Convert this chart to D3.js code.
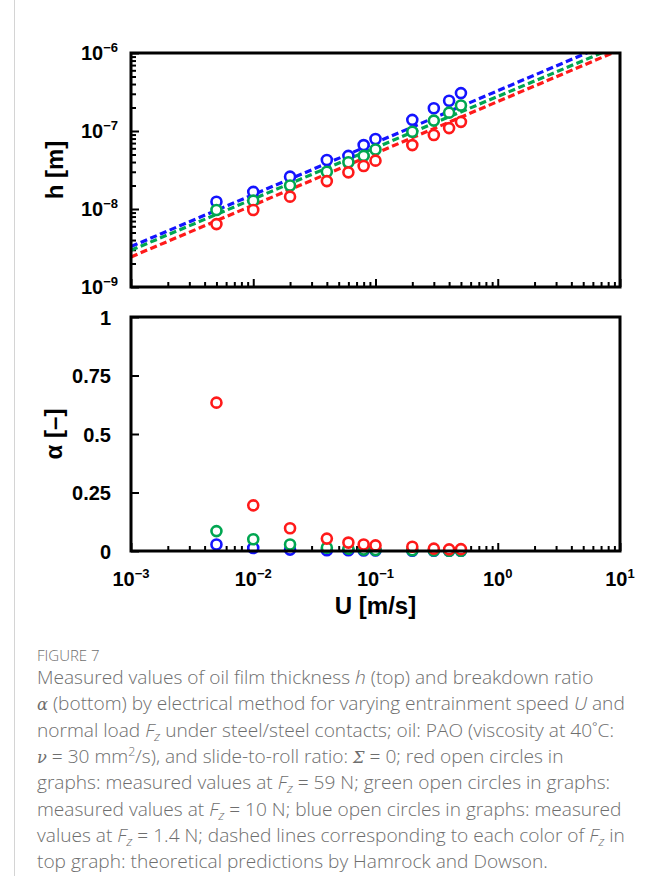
<!DOCTYPE html>
<html>
<head>
<meta charset="utf-8">
<script src="https://cdn.jsdelivr.net/npm/d3@7"></script>
<style>
  body { margin: 0; background: #fff; }
  .tick-label { font-family: "Liberation Sans", Arial, sans-serif; font-weight: bold; fill: #000; }
  .caption { font-family: "Open Sans", "Noto Sans", sans-serif; font-weight: 300; fill: #6e6e6e; }
</style>
</head>
<body>
<div id="chart"></div>
<script>
// Entrainment speeds U [m/s]
const speeds = [0.005, 0.01, 0.02, 0.04, 0.06, 0.08, 0.1, 0.2, 0.3, 0.4, 0.5];

// film thickness h [m]
const hBlue  = [1.24e-8, 1.66e-8, 2.6e-8, 4.25e-8, 4.8e-8, 6.6e-8, 7.9e-8, 1.39e-7, 1.96e-7, 2.44e-7, 3.06e-7];
const hGreen = [9.7e-9, 1.28e-8, 2.0e-8, 3.0e-8, 3.97e-8, 4.8e-8, 5.8e-8, 9.8e-8, 1.36e-7, 1.72e-7, 2.12e-7];
const hRed   = [6.4e-9, 9.7e-9, 1.44e-8, 2.28e-8, 2.95e-8, 3.56e-8, 4.17e-8, 6.6e-8, 8.9e-8, 1.09e-7, 1.31e-7];

// breakdown ratio alpha [-]
const aBlue  = [0.028, 0.013, 0.006, 0.003, 0.003, 0.002, 0.002, 0.001, 0.001, 0.001, 0.001];
const aGreen = [0.085, 0.05, 0.028, 0.014, 0.01, 0.006, 0.004, 0.003, 0.002, 0.001, 0.001];
const aRed   = [0.634, 0.195, 0.097, 0.053, 0.036, 0.028, 0.024, 0.018, 0.010, 0.007, 0.008];

// Hamrock-Dowson prediction lines, end points at U = 1e-3 and 1e1
const hdSpeeds = [1e-3, 1e1];
const hdBlue  = [3.3e-9, 1.52e-6];
const hdGreen = [2.96e-9, 1.26e-6];
const hdRed   = [2.43e-9, 1.10e-6];

// tick labels
const xTickExps = [-3, -2, -1, 0, 1];
const hTickExps = [-9, -8, -7, -6];
const aTicks = [0, 0.25, 0.5, 0.75, 1];
const aTickLabels = ["0", "0.25", "0.5", "0.75", "1"];

const series = [
  {name: "1.4 N", color: "#1414ff", h: hBlue,  a: aBlue,  hd: hdBlue},
  {name: "10 N",  color: "#00a651", h: hGreen, a: aGreen, hd: hdGreen},
  {name: "59 N",  color: "#ff1a1a", h: hRed,   a: aRed,   hd: hdRed}
];

const width = 655, height = 876;
const left = 131, right = 620;
const topPanel = {top: 53, bottom: 287};
const botPanel = {top: 317, bottom: 551};

const svg = d3.select("#chart").append("svg")
  .attr("width", width)
  .attr("height", height);

// page margin line
svg.append("line")
  .attr("x1", 14.5).attr("x2", 14.5)
  .attr("y1", 0).attr("y2", height)
  .attr("stroke", "#d4d4d4");

// Scales
const x = d3.scaleLog().domain([1e-3, 1e1]).range([left, right]);
const yH = d3.scaleLog().domain([1e-9, 1e-6]).range([topPanel.bottom, topPanel.top]);
const yA = d3.scaleLinear().domain([0, 1]).range([botPanel.bottom, botPanel.top]);

// minor tick positions for log axes
function minorTicks(exps) {
  const out = [];
  exps.slice(0, -1).forEach(e => {
    for (let m = 2; m <= 9; m++) out.push(m * Math.pow(10, e));
  });
  return out;
}
const xMajor = xTickExps.map(e => Math.pow(10, e));
const hMajor = hTickExps.map(e => Math.pow(10, e));

function styleTicks(g, w) {
  g.select(".domain").remove();
  g.selectAll(".tick line").attr("stroke", "#000").attr("stroke-width", w);
}

const circleR = 5, circleW = 2.6;

// ---------- top panel ----------
const topG = svg.append("g");

topG.append("clipPath").attr("id", "clipTop")
  .append("rect")
  .attr("x", left).attr("y", topPanel.top)
  .attr("width", right - left).attr("height", topPanel.bottom - topPanel.top);

// x ticks (inward)
topG.append("g")
  .attr("transform", `translate(0,${topPanel.bottom})`)
  .call(d3.axisBottom(x).tickValues(xMajor).tickSize(-8).tickFormat(""))
  .call(g => styleTicks(g, 2));
topG.append("g")
  .attr("transform", `translate(0,${topPanel.bottom})`)
  .call(d3.axisBottom(x).tickValues(minorTicks(xTickExps)).tickSize(-5).tickFormat(""))
  .call(g => styleTicks(g, 2));

// y ticks (inward)
topG.append("g")
  .attr("transform", `translate(${left},0)`)
  .call(d3.axisLeft(yH).tickValues(hMajor).tickSize(-8).tickFormat(""))
  .call(g => styleTicks(g, 2));
topG.append("g")
  .attr("transform", `translate(${left},0)`)
  .call(d3.axisLeft(yH).tickValues(minorTicks(hTickExps)).tickSize(-5).tickFormat(""))
  .call(g => styleTicks(g, 2));

// dashed theory lines
const hdLine = d3.line().x(d => x(d[0])).y(d => yH(d[1]));
topG.append("g").attr("clip-path", "url(#clipTop)")
  .selectAll("path")
  .data(series.slice().reverse())
  .join("path")
  .attr("d", s => hdLine(hdSpeeds.map((u, i) => [u, s.hd[i]])))
  .attr("fill", "none")
  .attr("stroke", s => s.color)
  .attr("stroke-width", 3.2)
  .attr("stroke-dasharray", "7,3.5");

// measured circles
series.forEach(s => {
  topG.append("g")
    .selectAll("circle")
    .data(speeds.map((u, i) => [u, s.h[i]]))
    .join("circle")
    .attr("cx", d => x(d[0]))
    .attr("cy", d => yH(d[1]))
    .attr("r", circleR)
    .attr("fill", "#fff")
    .attr("stroke", s.color)
    .attr("stroke-width", circleW);
});

topG.append("rect")
  .attr("x", left).attr("y", topPanel.top)
  .attr("width", right - left).attr("height", topPanel.bottom - topPanel.top)
  .attr("fill", "none").attr("stroke", "#000").attr("stroke-width", 3);

// power of ten label
function powLabel(sel, exp) {
  sel.append("tspan").text("10");
  sel.append("tspan").attr("font-size", 13).attr("dy", -8).text((exp < 0 ? "\u2212" : "") + Math.abs(exp));
}

topG.selectAll(".hlab")
  .data(hTickExps)
  .join("text")
  .attr("class", "tick-label hlab")
  .attr("x", 118)
  .attr("y", e => yH(Math.pow(10, e)) + 7)
  .attr("text-anchor", "end")
  .attr("font-size", 20)
  .each(function (e) { powLabel(d3.select(this), e); });

svg.append("text")
  .attr("class", "tick-label")
  .attr("font-size", 24)
  .attr("text-anchor", "middle")
  .attr("transform", `translate(63,${(topPanel.top + topPanel.bottom) / 2})rotate(-90)`)
  .text("h [m]");

// ---------- bottom panel ----------
const botG = svg.append("g");

botG.append("g")
  .attr("transform", `translate(0,${botPanel.bottom})`)
  .call(d3.axisBottom(x).tickValues(xMajor).tickSize(-8).tickFormat(""))
  .call(g => styleTicks(g, 2));
botG.append("g")
  .attr("transform", `translate(0,${botPanel.bottom})`)
  .call(d3.axisBottom(x).tickValues(minorTicks(xTickExps)).tickSize(-5).tickFormat(""))
  .call(g => styleTicks(g, 2));
botG.append("g")
  .attr("transform", `translate(${left},0)`)
  .call(d3.axisLeft(yA).tickValues(aTicks).tickSize(-8).tickFormat(""))
  .call(g => styleTicks(g, 2));

series.forEach(s => {
  botG.append("g")
    .selectAll("circle")
    .data(speeds.map((u, i) => [u, s.a[i]]))
    .join("circle")
    .attr("cx", d => x(d[0]))
    .attr("cy", d => yA(d[1]))
    .attr("r", circleR)
    .attr("fill", "#fff")
    .attr("stroke", s.color)
    .attr("stroke-width", circleW);
});

botG.append("rect")
  .attr("x", left).attr("y", botPanel.top)
  .attr("width", right - left).attr("height", botPanel.bottom - botPanel.top)
  .attr("fill", "none").attr("stroke", "#000").attr("stroke-width", 3);

botG.selectAll(".alab")
  .data(aTicks)
  .join("text")
  .attr("class", "tick-label alab")
  .attr("x", 111)
  .attr("y", d => yA(d) + 7.5)
  .attr("text-anchor", "end")
  .attr("font-size", 20)
  .text((d, i) => aTickLabels[i]);

botG.selectAll(".xlab")
  .data(xTickExps)
  .join("text")
  .attr("class", "tick-label xlab")
  .attr("x", e => x(Math.pow(10, e)))
  .attr("y", 586)
  .attr("text-anchor", "middle")
  .attr("font-size", 20)
  .each(function (e) { powLabel(d3.select(this), e); });

svg.append("text")
  .attr("class", "tick-label")
  .attr("font-size", 24)
  .attr("text-anchor", "middle")
  .attr("transform", `translate(62,${(botPanel.top + botPanel.bottom) / 2})rotate(-90)`)
  .text("\u03b1 [\u2013]");

svg.append("text")
  .attr("class", "tick-label")
  .attr("font-size", 24)
  .attr("x", (left + right) / 2)
  .attr("y", 614)
  .attr("text-anchor", "middle")
  .text("U [m/s]");

// ---------- caption ----------
// segments: [text, style]  style: n normal, i italic, g greek serif italic, sub, sup
const F = [["F", "i"], ["z", "sub"]];
const captionLines = [
  [["Measured values of oil film thickness ", "n"], ["h", "i"], [" (top) and breakdown ratio", "n"]],
  [["\u03b1", "g"], [" (bottom) by electrical method for varying entrainment speed ", "n"], ["U", "i"], [" and", "n"]],
  [["normal load ", "n"], ...F, [" under steel/steel contacts; oil: PAO (viscosity at 40\u02daC:", "n"]],
  [["\u03bd", "g"], [" = 30 mm", "n"], ["2", "sup"], ["/s), and slide-to-roll ratio: ", "n"], ["\u03a3", "g"], [" = 0; red open circles in", "n"]],
  [["graphs: measured values at ", "n"], ...F, [" = 59 N; green open circles in graphs:", "n"]],
  [["measured values at ", "n"], ...F, [" = 10 N; blue open circles in graphs: measured", "n"]],
  [["values at ", "n"], ...F, [" = 1.4 N; dashed lines corresponding to each color of ", "n"], ...F, [" in", "n"]],
  [["top graph: theoretical predictions by Hamrock and Dowson.", "n"]]
];

svg.append("text")
  .attr("class", "caption")
  .attr("x", 37)
  .attr("y", 661)
  .attr("font-size", 15)
  .attr("font-weight", 400)
  .attr("fill", "#707070")
  .text("FIGURE 7");

const capSize = 19.1;
const capG = svg.append("g");
captionLines.forEach((line, li) => {
  const t = capG.append("text")
    .attr("class", "caption")
    .attr("x", 37)
    .attr("y", 684 + li * 26.3)
    .attr("font-size", capSize);
  let shift = 0;
  line.forEach(([txt, st]) => {
    const sp = t.append("tspan").text(txt);
    let target = 0;
    if (st === "i") sp.attr("font-style", "italic");
    if (st === "g") sp.attr("font-style", "italic").attr("font-weight", 400).attr("font-family", "'DejaVu Serif', serif").attr("font-size", capSize * 0.85);
    if (st === "sub") { sp.attr("font-style", "italic").attr("font-size", capSize * 0.7); target = 4; }
    if (st === "sup") { sp.attr("font-size", capSize * 0.65); target = -7; }
    if (target !== shift) sp.attr("dy", target - shift);
    shift = target;
  });
});
</script>
</body>
</html>
